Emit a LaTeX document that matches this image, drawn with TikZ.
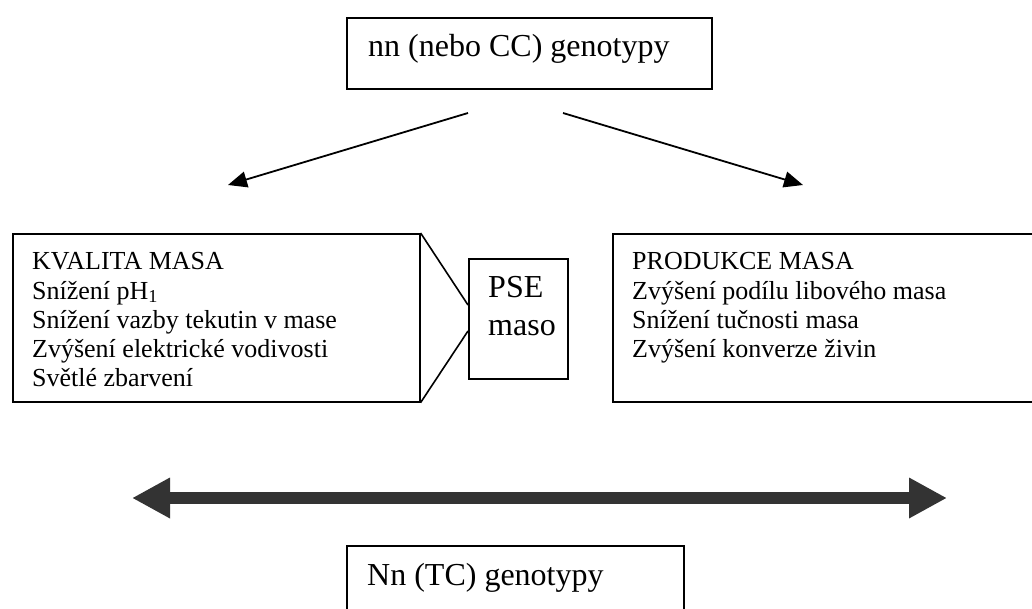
\documentclass[tikz,border=0pt]{standalone}
\usepackage{fontspec}
\setmainfont{Liberation Serif}
\usetikzlibrary{arrows.meta}
\definecolor{darkarrow}{RGB}{51,51,51}
\begin{document}
\begin{tikzpicture}[x=1pt,y=-1pt,
  box/.style={draw=black,line width=1.6pt,fill=white,inner sep=0pt},
  big/.style={font=\fontsize{32}{37}\selectfont,inner sep=0pt,anchor=base west},
  small/.style={font=\fontsize{26}{29}\selectfont,inner sep=0pt,anchor=base west},
  thin arrow/.style={line width=1.8pt,-{Triangle[length=19pt,width=16pt]}},
  fat arrow/.style={darkarrow,line width=12pt,{Triangle[length=38pt,width=38pt]}-{Triangle[length=38pt,width=38pt]}}]
\useasboundingbox (0,0) rectangle (1032,609);
% boxes
\draw[box] (347,18) rectangle (712,89);
\node[box,minimum width=407pt,minimum height=168pt,anchor=north west] (left) at (12,233) {};
\node[box,minimum width=99pt,minimum height=120pt,anchor=north west] (pse) at (468,258) {};
\node[box,minimum width=430pt,minimum height=168pt,anchor=north west] (right) at (612,233) {};
\draw[box] (347,546) rectangle (684,640);
% callout pointer
\coordinate (pu) at (468,305);
\coordinate (pl) at (468,331);
\draw[line width=1.6pt] (left.north east) -- (pu);
\draw[line width=1.6pt] (left.south east) -- (pl);
% texts
\node[big] (top) at (368,57) {nn (nebo CC) genotypy};
\node[big] (bot) at (367,585) {Nn (TC) genotypy};
\node[big] (p1) at (488,298) {PSE};
\node[big] (p2) at (488,335) {maso};
\node[small] (l1) at (32,270) {KVALITA MASA};
\node[small] (l2) at (32,299) {Snížení pH\textsubscript{1}};
\node[small] (l3) at (32,328) {Snížení vazby tekutin v mase};
\node[small] (l4) at (32,357) {Zvýšení elektrické vodivosti};
\node[small] (l5) at (32,386) {Světlé zbarvení};
\node[small] (r1) at (632,270) {PRODUKCE MASA};
\node[small] (r2) at (632,299) {Zvýšení podílu libového masa};
\node[small] (r3) at (632,328) {Snížení tučnosti masa};
\node[small] (r4) at (632,357) {Zvýšení konverze živin};
% arrows
\coordinate (as) at (468,113);
\coordinate (ae) at (228,185);
\coordinate (bs) at (563,113);
\coordinate (be) at (803,185);
\draw[thin arrow] (as) -- (ae);
\draw[thin arrow] (bs) -- (be);
\coordinate (dl) at (132,498);
\coordinate (dr) at (947,498);
\draw[fat arrow] (dl) -- (dr);
\end{tikzpicture}
\end{document}
